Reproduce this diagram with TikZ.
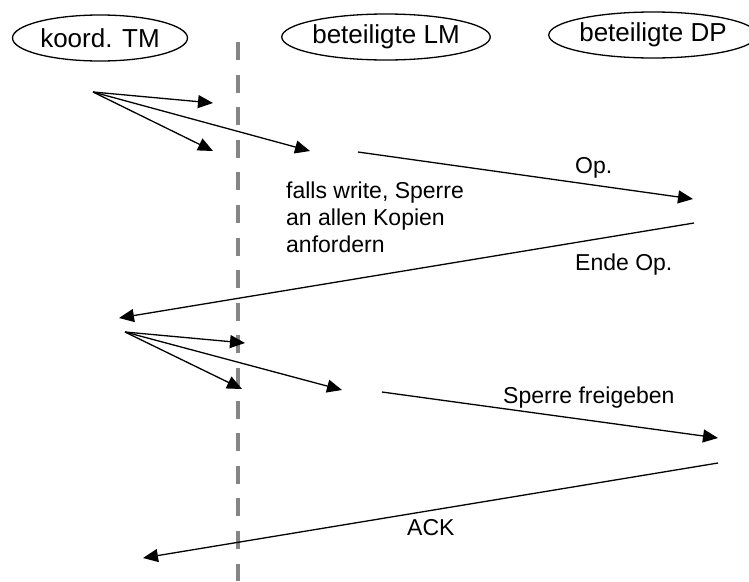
\documentclass[tikz,border=0pt]{standalone}
\usepackage{fontspec}
\setmainfont{Liberation Sans}
\usetikzlibrary{arrows.meta,shapes.geometric}
\tikzset{
  actor/.style={draw, ellipse, line width=1.3pt, inner sep=0pt, minimum height=46pt,
    font=\fontsize{26}{30}\selectfont},
  msg/.style={line width=1.3pt, -{Triangle[length=15pt,width=13pt]}},
  lbl/.style={anchor=base west, inner sep=0pt, font=\fontsize{23}{27}\selectfont},
  lifeline/.style={draw=black!48, line width=4pt, dash pattern=on 18pt off 14.6pt}
}
\begin{document}
\begin{tikzpicture}[x=1pt,y=-1pt]
\useasboundingbox (0,0) rectangle (749,581);
% actors
\node[actor, minimum width=175pt] (tm) at (100,38) {koord. TM};
\node[actor, minimum width=193pt] (lm) at (386,37) {beteiligte LM};
\node[actor, minimum width=190pt] (dp) at (653,35) {beteiligte DP};
% dashed separator
\coordinate (dtop) at (238,42);
\coordinate (dbot) at (238,581);
\draw[lifeline] (dtop) -- (dbot);
% first fan
\coordinate (f1) at (93,92);
\coordinate (f1a) at (213,103);
\coordinate (f1b) at (213,151);
\coordinate (f1c) at (310,151);
\draw[msg] (f1) -- (f1a);
\draw[msg] (f1) -- (f1b);
\draw[msg] (f1) -- (f1c);
% Op.
\coordinate (op1) at (358,152);
\coordinate (op2) at (693,199);
\draw[msg] (op1) -- (op2);
\node[lbl] (opl) at (575,173) {Op.};
\node[lbl, align=left] (fw) at (286,252) {falls write, Sperre\\an allen Kopien\\anfordern};
% Ende Op.
\coordinate (e1) at (694,223);
\coordinate (e2) at (119,318);
\draw[msg] (e1) -- (e2);
\node[lbl] (eol) at (575,270) {Ende Op.};
% second fan
\coordinate (f2) at (125,332);
\coordinate (f2a) at (245,343);
\coordinate (f2b) at (242,389);
\coordinate (f2c) at (342,390);
\draw[msg] (f2) -- (f2a);
\draw[msg] (f2) -- (f2b);
\draw[msg] (f2) -- (f2c);
% Sperre freigeben
\coordinate (s1) at (382,392);
\coordinate (s2) at (718,438);
\draw[msg] (s1) -- (s2);
\node[lbl] (sfl) at (503,403) {Sperre freigeben};
% ACK
\coordinate (a1) at (718,463);
\coordinate (a2) at (143,558);
\draw[msg] (a1) -- (a2);
\node[lbl] (ackl) at (407,535) {ACK};
\end{tikzpicture}
\end{document}
